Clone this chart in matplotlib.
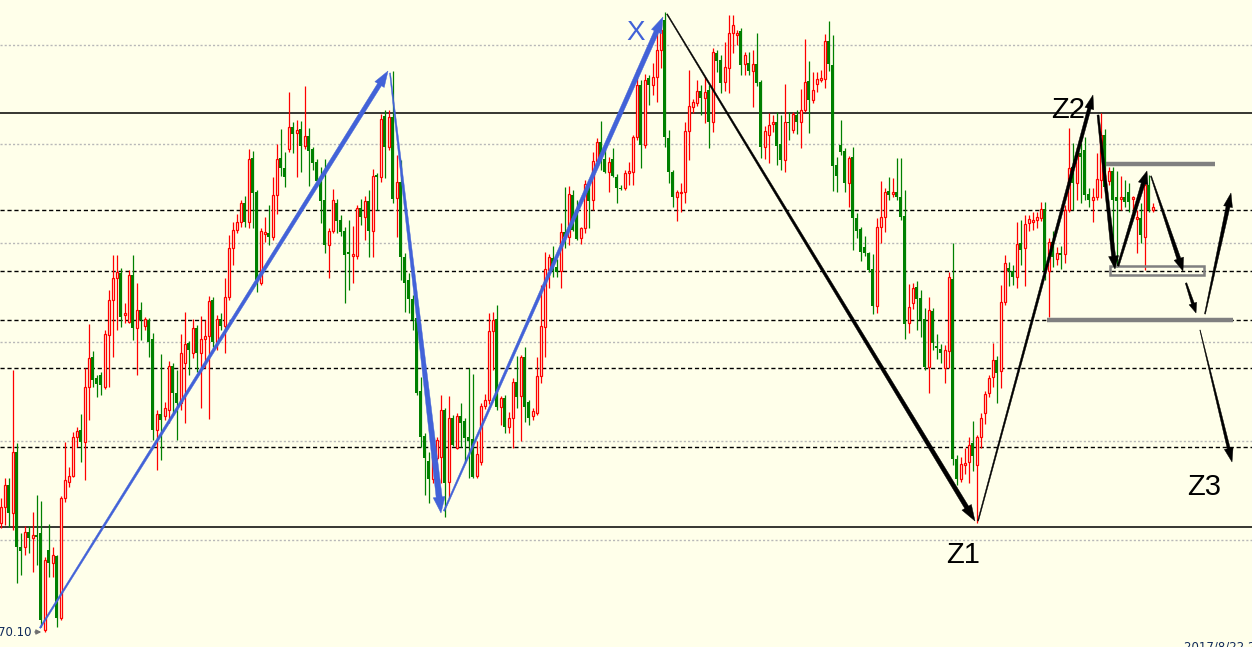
import numpy as np
import matplotlib
matplotlib.use("Agg")
import matplotlib.pyplot as plt
from matplotlib.patches import Polygon, Rectangle
from matplotlib.transforms import IdentityTransform

opens = [
    71.19, 71.35, 71.57, 71.29, 71.90, 70.95, 70.95, 71.10, 71.04, 71.07,
    71.09, 70.12, 70.92, 70.79, 70.86, 70.24, 71.44, 71.60, 71.66, 72.05,
    72.12, 72.00, 72.55, 72.85, 72.64, 72.67, 72.55, 73.07, 73.42, 73.64,
    73.69, 73.27, 73.20, 73.67, 73.14, 73.32, 73.16, 73.22, 73.03, 72.12,
    72.28, 72.26, 72.32, 72.76, 72.49, 72.39, 72.79, 72.99, 72.89, 73.14,
    72.89, 73.03, 73.06, 73.42, 73.00, 73.23, 73.16, 73.45, 73.94, 74.12,
    74.20, 74.39, 74.20, 74.84, 74.50, 73.59, 74.08, 74.09, 74.05, 74.47,
    74.84, 74.74, 74.93, 75.15, 75.09, 75.13, 74.96, 75.06, 74.93, 74.80,
    74.62, 74.42, 73.97, 74.11, 74.39, 74.22, 74.11, 73.90, 73.86, 73.86,
    74.34, 74.25, 74.41, 74.11, 74.66, 74.65, 75.26, 74.95, 75.25, 74.44,
    74.60, 73.85, 73.62, 73.43, 73.24, 72.51, 72.06, 71.81, 71.63, 71.84,
    71.85, 72.32, 71.60, 72.24, 71.94, 72.26, 72.21, 72.05, 72.03, 71.66,
    71.80, 72.36, 72.42, 73.11, 73.23, 72.35, 72.44, 72.15, 72.24, 72.60,
    72.46, 72.85, 72.40, 72.26, 72.29, 72.66, 73.15, 73.72, 73.84, 73.75,
    73.71, 74.10, 74.05, 74.47, 74.32, 74.04, 74.14, 74.57, 74.42, 74.81,
    75.00, 74.83, 74.70, 74.83, 74.65, 74.54, 74.54, 74.69, 74.70, 75.05,
    75.57, 74.97, 75.64, 75.57, 75.65, 75.92, 76.22, 75.04, 74.70, 74.45,
    74.49, 74.50, 75.11, 75.35, 75.39, 75.51, 75.44, 75.52, 75.20, 75.89,
    75.82, 75.60, 75.74, 76.09, 76.07, 76.11, 75.78, 75.79, 75.71, 75.78,
    75.60, 74.95, 75.07, 75.18, 75.20, 74.98, 74.82, 75.20, 75.12, 75.27,
    75.20, 75.32, 75.61, 75.42, 75.58, 75.62, 75.63, 76.01, 75.77, 74.77,
    74.97, 74.91, 74.59, 74.85, 74.24, 74.13, 73.95, 73.89, 73.73, 73.36,
    74.15, 74.25, 74.51, 74.48, 74.50, 74.45, 74.26, 73.19, 73.39, 73.55,
    73.44, 73.23, 72.75, 73.31, 72.96, 72.93, 72.74, 72.91, 73.63, 71.83,
    71.63, 71.77, 71.80, 71.99, 71.77, 72.05, 72.29, 72.49, 72.65, 72.82,
    72.71, 73.40, 73.74, 73.71, 73.65, 73.99, 73.94, 74.19, 74.20, 74.22,
    74.24, 74.33, 73.71, 74.00, 73.83, 73.88, 73.88, 74.32, 74.75, 74.59,
    74.89, 74.92, 74.48, 74.42, 74.45, 74.62, 75.07, 74.61, 74.71, 74.45,
    74.43, 74.45, 74.50, 74.43, 74.23, 74.24, 74.05, 74.57, 74.32,
]
highs = [
    71.44, 71.64, 71.64, 72.72, 71.99, 71.09, 71.16, 71.16, 71.30, 71.47,
    71.41, 70.85, 71.18, 70.95, 70.87, 71.46, 72.00, 71.75, 72.10, 72.15,
    72.28, 72.74, 73.18, 72.91, 72.67, 72.70, 73.12, 73.52, 73.87, 73.87,
    73.74, 73.39, 73.72, 73.87, 73.59, 73.40, 73.25, 73.24, 73.09, 72.32,
    72.88, 72.40, 72.81, 72.79, 72.72, 73.08, 73.30, 73.01, 73.23, 73.17,
    73.26, 73.22, 73.46, 73.45, 73.27, 73.29, 73.64, 74.07, 74.20, 74.28,
    74.42, 74.46, 74.93, 74.91, 74.52, 74.14, 74.25, 74.37, 74.65, 74.98,
    75.13, 74.90, 75.50, 75.20, 75.22, 75.21, 75.56, 75.14, 74.95, 74.83,
    74.75, 74.83, 74.14, 74.53, 74.43, 74.27, 74.15, 74.22, 74.16, 74.37,
    74.43, 74.46, 74.52, 74.73, 74.69, 75.28, 75.32, 75.32, 75.71, 74.87,
    74.82, 73.89, 73.69, 73.47, 73.35, 72.65, 72.09, 71.90, 71.89, 72.05,
    72.47, 72.34, 72.46, 72.27, 72.29, 72.39, 72.24, 72.74, 72.68, 72.01,
    72.39, 72.48, 73.29, 73.30, 73.37, 72.46, 72.47, 72.30, 72.64, 72.86,
    72.87, 72.95, 72.42, 72.34, 72.85, 73.57, 73.90, 73.88, 73.96, 73.83,
    74.19, 74.55, 74.56, 74.52, 74.42, 74.15, 74.62, 74.61, 74.90, 75.04,
    75.21, 74.93, 74.85, 74.94, 74.68, 74.57, 74.72, 74.80, 75.07, 75.73,
    75.62, 75.68, 75.67, 75.79, 76.09, 76.19, 76.30, 75.12, 74.72, 74.52,
    74.59, 75.20, 75.72, 75.43, 75.62, 75.57, 75.65, 75.57, 75.94, 75.92,
    75.87, 76.00, 76.27, 76.27, 76.12, 76.14, 75.90, 75.90, 75.92, 76.09,
    75.62, 75.16, 75.29, 75.27, 75.30, 75.27, 75.58, 75.30, 75.30, 75.32,
    75.53, 76.03, 75.81, 75.70, 75.70, 75.72, 76.08, 76.21, 76.07, 74.85,
    75.22, 74.94, 74.86, 74.95, 74.29, 74.15, 74.06, 73.90, 73.88, 74.24,
    74.61, 74.54, 74.65, 74.64, 74.84, 74.84, 74.52, 73.58, 73.59, 73.61,
    73.52, 73.34, 73.45, 73.34, 73.08, 72.98, 72.97, 73.70, 73.99, 71.87,
    71.85, 71.94, 72.05, 72.21, 72.07, 72.29, 72.51, 72.67, 72.99, 72.86,
    73.57, 73.87, 73.80, 73.77, 74.20, 74.22, 74.27, 74.27, 74.30, 74.30,
    74.40, 74.40, 74.04, 74.11, 73.95, 73.96, 74.37, 75.14, 74.99, 74.95,
    74.99, 75.05, 74.54, 74.54, 74.89, 75.29, 75.13, 74.75, 74.75, 74.71,
    74.66, 74.62, 74.59, 74.46, 74.32, 74.39, 74.67, 74.67, 74.39,
]
lows = [
    71.14, 71.17, 71.15, 71.12, 70.59, 70.67, 70.87, 70.89, 70.70, 70.77,
    70.15, 70.10, 70.65, 70.65, 70.15, 70.22, 71.40, 71.55, 71.65, 71.95,
    71.80, 71.62, 72.22, 72.55, 72.45, 72.47, 72.53, 72.55, 72.85, 73.12,
    73.15, 73.19, 73.19, 73.02, 72.67, 73.02, 73.12, 72.85, 72.02, 71.72,
    71.82, 72.22, 72.19, 72.29, 72.02, 72.32, 72.19, 72.67, 72.84, 72.70,
    72.34, 72.74, 72.23, 72.95, 72.92, 73.12, 72.89, 73.42, 73.77, 74.09,
    74.15, 74.15, 74.14, 74.14, 73.50, 73.57, 74.00, 73.97, 74.02, 74.28,
    74.66, 74.55, 74.90, 74.89, 74.65, 74.70, 74.93, 74.56, 74.72, 74.59,
    74.19, 73.89, 73.64, 74.09, 74.09, 74.06, 73.39, 73.52, 73.59, 73.83,
    74.17, 74.02, 73.85, 73.85, 74.32, 74.60, 74.64, 74.92, 74.39, 74.05,
    73.62, 73.30, 73.29, 73.12, 72.47, 71.95, 71.47, 71.39, 71.59, 71.82,
    71.59, 71.25, 71.44, 71.96, 71.93, 71.95, 71.79, 71.64, 71.64, 71.64,
    71.77, 72.33, 72.38, 72.72, 72.32, 72.17, 72.09, 72.09, 71.94, 72.34,
    72.01, 72.20, 72.17, 72.22, 72.27, 72.59, 72.85, 73.54, 73.65, 73.65,
    73.54, 73.94, 73.97, 74.11, 74.02, 73.98, 74.09, 74.14, 74.32, 74.77,
    74.72, 74.69, 74.50, 74.65, 74.39, 74.52, 74.52, 74.57, 74.57, 75.02,
    74.74, 74.94, 75.37, 75.47, 75.40, 75.74, 74.95, 74.59, 74.35, 74.21,
    74.30, 74.39, 74.82, 75.29, 75.36, 75.27, 75.19, 74.94, 75.10, 75.70,
    75.49, 75.51, 75.49, 75.89, 75.97, 75.67, 75.67, 75.67, 75.35, 75.56,
    74.84, 74.83, 74.79, 75.10, 74.77, 74.72, 74.70, 75.02, 75.09, 75.08,
    74.94, 75.30, 75.09, 75.39, 75.50, 75.60, 75.54, 75.71, 74.51, 74.50,
    74.87, 74.50, 74.35, 73.92, 74.04, 73.81, 73.86, 73.70, 73.28, 73.29,
    73.99, 74.10, 74.42, 74.45, 74.42, 74.22, 73.03, 73.09, 73.33, 73.12,
    73.05, 72.72, 72.49, 72.92, 72.83, 72.79, 72.59, 72.74, 71.77, 71.57,
    71.60, 71.68, 71.59, 71.71, 71.19, 71.94, 72.18, 72.45, 72.55, 72.39,
    72.54, 73.37, 73.56, 73.57, 73.54, 73.77, 73.56, 74.11, 74.12, 74.14,
    74.21, 73.62, 73.25, 73.75, 73.77, 73.73, 73.79, 74.30, 74.32, 74.42,
    74.39, 74.42, 74.35, 74.20, 74.42, 74.44, 74.54, 74.57, 73.85, 73.75,
    74.32, 74.35, 74.30, 74.32, 73.89, 73.99, 73.72, 74.30, 74.30,
]
closes = [
    71.35, 71.57, 71.29, 71.90, 70.95, 70.91, 71.10, 71.04, 71.07, 71.05,
    70.22, 70.82, 70.79, 70.87, 70.24, 71.44, 71.62, 71.66, 72.05, 72.11,
    72.00, 72.55, 72.84, 72.62, 72.58, 72.57, 73.08, 73.42, 73.64, 73.70,
    73.25, 73.29, 73.67, 73.14, 73.32, 73.22, 73.23, 73.00, 72.12, 72.28,
    72.22, 72.34, 72.76, 72.49, 72.39, 72.89, 72.98, 72.92, 73.14, 72.89,
    73.03, 73.06, 73.41, 73.00, 73.23, 73.16, 73.45, 73.94, 74.12, 74.20,
    74.39, 74.20, 74.83, 74.49, 73.62, 74.11, 74.10, 74.05, 74.47, 74.83,
    74.74, 74.65, 75.15, 75.08, 75.12, 74.96, 75.06, 74.91, 74.79, 74.61,
    74.41, 73.97, 74.11, 74.42, 74.21, 74.10, 73.87, 73.88, 73.88, 74.34,
    74.25, 74.41, 74.11, 74.66, 74.65, 75.23, 74.95, 75.25, 74.43, 74.60,
    73.85, 73.59, 73.43, 73.22, 72.49, 72.05, 71.84, 71.63, 71.86, 72.02,
    72.32, 71.59, 72.24, 71.97, 72.26, 72.19, 72.04, 72.01, 71.65, 71.88,
    72.36, 72.42, 73.11, 73.22, 72.35, 72.44, 72.15, 72.24, 72.60, 72.45,
    72.85, 72.35, 72.24, 72.31, 72.66, 73.16, 73.73, 73.85, 73.71, 73.70,
    74.10, 74.05, 74.48, 74.12, 74.03, 74.14, 74.58, 74.41, 74.81, 75.00,
    74.82, 74.70, 74.80, 74.66, 74.54, 74.53, 74.69, 74.71, 75.05, 75.57,
    74.97, 75.62, 75.57, 75.65, 75.92, 76.12, 75.05, 74.70, 74.45, 74.50,
    74.50, 75.11, 75.36, 75.40, 75.51, 75.44, 75.50, 75.20, 75.90, 75.81,
    75.59, 75.75, 76.09, 76.17, 76.09, 75.77, 75.87, 75.71, 75.78, 75.59,
    74.95, 75.11, 75.17, 75.20, 74.96, 74.82, 75.20, 75.19, 75.28, 75.20,
    75.32, 75.60, 75.42, 75.52, 75.63, 75.63, 76.01, 75.78, 74.76, 74.66,
    74.90, 74.59, 74.84, 74.24, 74.11, 73.90, 73.89, 73.72, 73.36, 74.15,
    74.25, 74.50, 74.47, 74.50, 74.45, 74.25, 73.18, 73.35, 73.54, 73.43,
    73.22, 72.75, 73.32, 72.99, 72.94, 72.89, 72.92, 73.65, 71.83, 71.63,
    71.78, 71.79, 71.97, 71.86, 72.05, 72.24, 72.48, 72.64, 72.82, 72.69,
    73.40, 73.79, 73.71, 73.65, 73.98, 73.92, 74.18, 74.23, 74.22, 74.25,
    74.33, 73.71, 74.00, 73.85, 73.89, 73.87, 74.32, 74.74, 74.59, 74.89,
    74.85, 74.47, 74.42, 74.45, 74.63, 75.07, 74.55, 74.71, 74.42, 74.41,
    74.44, 74.40, 74.40, 74.45, 74.25, 74.07, 74.57, 74.32, 74.35,
]

solid_levels = [75.29, 71.15]
dashed_levels = [74.32, 73.71, 73.22, 72.74, 71.95]
grid_levels = [75.97, 74.98, 73.99, 73.00, 72.01, 71.02]

# (x0, p0, x1, p1, tail width, neck width, head length, head width) in px
blue_arrows = [
    (9.88, 70.14, 96.88, 75.71, 1.5, 4.5, 16, 11),
    (97.38, 75.69, 110.12, 71.29, 1.0, 6.0, 16, 12),
    (110.88, 71.31, 165.62, 76.25, 1.5, 5.0, 16, 11),
]
black_arrows = [
    (166.62, 76.28, 243.62, 71.21, 1.0, 4.5, 16, 11),
    (244.38, 71.21, 273.12, 75.47, 1.0, 3.5, 14, 9),
    (274.38, 75.27, 278.62, 73.73, 2.0, 4.0, 13, 10),
    (279.38, 73.76, 286.62, 74.71, 2.0, 4.0, 13, 10),
    (287.62, 74.66, 295.62, 73.71, 1.0, 4.0, 13, 10),
    (296.38, 73.59, 298.88, 73.29, 1.5, 3.0, 10, 8),
    (301.12, 73.28, 307.62, 74.49, 1.0, 4.0, 14, 9),
    (299.88, 73.12, 307.88, 71.80, 0.5, 3.0, 14, 9),
]

BG = "#FFFFEA"
UP = "#FF0000"
DOWN = "#008000"
BLUE = "#4262D8"


def taper_arrow(ax, x0, p0, x1, p1, w0, w1, hl, hw, color):
    (a, b), (c, d) = ax.transData.transform([(x0, p0), (x1, p1)])
    length = np.hypot(c - a, d - b)
    ux, uy = (c - a) / length, (d - b) / length
    nx, ny = -uy, ux
    bx, by = c - ux * hl, d - uy * hl
    pts = [
        (a + nx * w0 / 2, b + ny * w0 / 2),
        (bx + nx * w1 / 2, by + ny * w1 / 2),
        (bx + nx * hw / 2, by + ny * hw / 2),
        (c, d),
        (bx - nx * hw / 2, by - ny * hw / 2),
        (bx - nx * w1 / 2, by - ny * w1 / 2),
        (a - nx * w0 / 2, b - ny * w0 / 2),
    ]
    ax.add_patch(Polygon(pts, closed=True, facecolor=color, edgecolor=color,
                         linewidth=0.3, transform=IdentityTransform(), zorder=6))


fig = plt.figure(figsize=(12.52, 6.47), dpi=100, facecolor=BG)
ax = fig.add_axes([0, 0, 1, 1])
ax.set_facecolor(BG)
ax.set_xlim(-0.125, 312.875)
ax.set_ylim(69.95, 76.42)
ax.axis("off")

for lv in grid_levels:
    ax.axhline(lv, color="#B8B8B8", lw=1.0, ls=(0, (1.5, 1.5)), zorder=1)
for lv in dashed_levels:
    ax.axhline(lv, color="black", lw=1.0, ls=(0, (3, 2)), zorder=1)
for lv in solid_levels:
    ax.axhline(lv, color="black", lw=1.1, zorder=1)

o = np.array(opens)
h = np.array(highs)
l = np.array(lows)
c = np.array(closes)
x = np.arange(len(o))
up = c >= o
colors = np.where(up, UP, DOWN)

ax.vlines(x, l, h, colors=colors, lw=0.9, zorder=2)
body_lo = np.minimum(o, c)
body_h = np.maximum(np.abs(c - o), 0.015)
ax.bar(x[~up], body_h[~up], bottom=body_lo[~up], width=0.75,
       color=DOWN, linewidth=0, zorder=3)
ax.bar(x[up], body_h[up], bottom=body_lo[up], width=0.5,
       color=BG, edgecolor=UP, linewidth=0.9, zorder=3)

# gray support / resistance marks
ax.plot([276.38, 303.62], [74.78, 74.78], color="#808080", lw=3.2,
        solid_capstyle="butt", zorder=4)
ax.plot([261.62, 308.12], [73.22, 73.22], color="#808080", lw=3.2,
        solid_capstyle="butt", zorder=4)
ax.add_patch(Rectangle((277.38, 73.67), 300.88 - 277.38, 73.76 - 73.67,
                       fill=False, edgecolor="#808080", lw=1.8, zorder=4))

fig.canvas.draw()
for a in blue_arrows:
    taper_arrow(ax, *a, BLUE)
for a in black_arrows:
    taper_arrow(ax, *a, "black")

ax.text(158.9, 76.09, "X", color=BLUE, fontsize=20, family="Liberation Sans",
        ha="center", va="center", zorder=7)
ax.text(240.6, 70.87, "Z1", color="black", fontsize=21, family="Liberation Sans",
        ha="center", va="center", zorder=7)
ax.text(266.9, 75.32, "Z2", color="black", fontsize=21, family="Liberation Sans",
        ha="center", va="center", zorder=7)
ax.text(300.9, 71.55, "Z3", color="black", fontsize=21, family="Liberation Sans",
        ha="center", va="center", zorder=7)

ax.text(7.7, 70.10, "70.10", color="#102A5A", fontsize=8.5,
        family="DejaVu Sans", ha="right", va="center", zorder=7)
ax.annotate("", xy=(10.9, 70.10), xytext=(7.9, 70.10),
            arrowprops=dict(arrowstyle="-|>", color="#707070", lw=1,
                            mutation_scale=7), zorder=7)
ax.text(296.0, 70.02, "2017/8/22 23:00", color="#102A5A", fontsize=8.5,
        family="DejaVu Sans", ha="left", va="top", zorder=7)

fig.savefig("out.png", dpi=100, facecolor=BG)
